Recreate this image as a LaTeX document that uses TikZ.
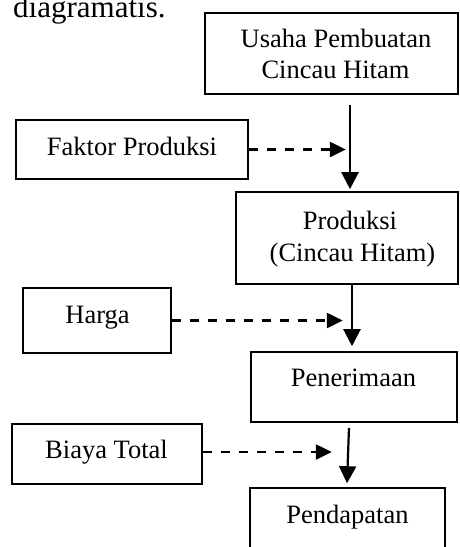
\documentclass[tikz,border=0pt]{standalone}
\usepackage{fontspec}
\setmainfont{Liberation Serif}
\usetikzlibrary{arrows.meta,calc}
\tikzset{
  box/.style={draw=black, line width=1.6pt, rectangle, inner sep=0pt},
  lbl/.style={anchor=base, inner sep=0pt, font=\fontsize{26.5}{30}\selectfont},
  flow/.style={line width=2.2pt, -{Triangle[width=17pt,length=17pt]}},
  infl/.style={line width=2.4pt, dash pattern=on 9.5pt off 8.5pt, -{Triangle[width=15pt,length=16pt]}}
}
\begin{document}
\begin{tikzpicture}[x=1pt,y=-1pt]
\useasboundingbox (0,0) rectangle (459,547);
\clip (0,0) rectangle (459,547);
% heading fragment
\node[anchor=base west, inner sep=0pt, font=\fontsize{31}{34}\selectfont] (head) at (13,17) {diagramatis.};
% boxes
\node[box, minimum width=253pt, minimum height=81pt] (usaha) at (331.5,53.5) {};
\node[box, minimum width=232pt, minimum height=59pt] (faktor) at (132,149.5) {};
\node[box, minimum width=222pt, minimum height=92pt] (prod) at (347,238) {};
\node[box, minimum width=148pt, minimum height=65pt] (harga) at (97,320.5) {};
\node[box, minimum width=206pt, minimum height=70pt] (terima) at (354,387) {};
\node[box, minimum width=190pt, minimum height=60pt] (biaya) at (107,454) {};
\node[box, minimum width=195pt, minimum height=80pt] (dapat) at (347.5,528) {};
% texts
\node[lbl] (t1) at (336,47.7) {Usaha Pembuatan};
\node[lbl] (t2) at (335.5,78.3) {Cincau Hitam};
\node[lbl] (t3) at (132,155) {Faktor Produksi};
\node[lbl] (t4) at (350,229) {Produksi};
\node[lbl] (t5) at (352.5,261.7) {(Cincau Hitam)};
\node[lbl] (t6) at (97.5,323) {Harga};
\node[lbl] (t7) at (353.5,386.7) {Penerimaan};
\node[lbl] (t8) at (106.5,458) {Biaya Total};
\node[lbl] (t9) at (347.5,523) {Pendapatan};
% main flow
\draw[flow] ([xshift=18.5pt,yshift=-10pt]usaha.south) -- ([xshift=3pt,yshift=2pt]prod.north);
\draw[flow] ([xshift=5pt]prod.south) -- ([xshift=-2pt,yshift=5pt]terima.north);
\draw[flow] ([xshift=-5pt,yshift=-5pt]terima.south) -- ([xshift=-0.5pt,yshift=4pt]dapat.north);
% influences
\draw[infl] (faktor.east) -- ++(97,0);
\draw[infl] (harga.east) -- ++(171,0);
\draw[infl] ([yshift=2pt]biaya.east) -- ++(129,0);
\end{tikzpicture}
\end{document}
